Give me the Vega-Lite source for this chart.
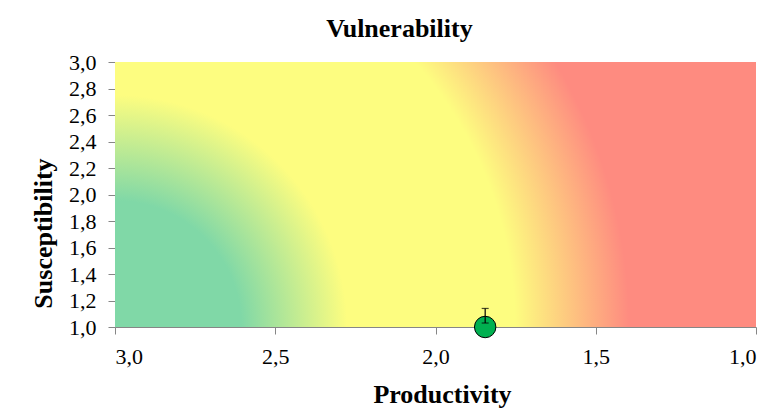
{
  "$schema": "https://vega.github.io/schema/vega-lite/v6.json",
  "autosize": "none",
  "width": 641,
  "height": 265,
  "padding": {"left": 115, "top": 62, "right": 24, "bottom": 92},
  "background": "white",
  "title": {
    "text": "Vulnerability",
    "font": "Liberation Serif",
    "fontSize": 26,
    "fontWeight": "bold",
    "color": "black",
    "anchor": "middle",
    "dx": -36,
    "offset": 9
  },
  "config": {
    "view": {"stroke": null},
    "axis": {
      "grid": false,
      "domainColor": "#868686",
      "tickColor": "#868686",
      "tickSize": 7,
      "labelFont": "Liberation Serif",
      "labelFontSize": 22,
      "labelColor": "black",
      "labelPadding": 12,
      "labelOverlap": false,
      "titleFont": "Liberation Serif",
      "titleFontSize": 26,
      "titleFontWeight": "bold",
      "titleColor": "black",
      "labelExpr": "replace(format(datum.value, '.1f'), '.', ',')"
    }
  },
  "datasets": {
    "zone": [{"P0": 3, "P1": 1, "S0": 1, "S1": 3}],
    "species": [{"Productivity": 1.845, "Susceptibility": 1.0, "low": 1.03, "high": 1.14}]
  },
  "layer": [
    {
      "data": {"name": "zone"},
      "mark": {
        "type": "rect",
        "color": {
          "gradient": "radial",
          "x1": 0, "y1": 0.7067, "r1": 0,
          "x2": 0, "y2": 0.7067, "r2": 1,
          "stops": [
            {"offset": 0, "color": "#80d8a7"},
            {"offset": 0.197, "color": "#80d8a7"},
            {"offset": 0.362, "color": "#fdfd80"},
            {"offset": 0.624, "color": "#fdfd80"},
            {"offset": 0.802, "color": "#fe8b80"},
            {"offset": 1, "color": "#fe8b80"}
          ]
        }
      },
      "encoding": {
        "x": {
          "field": "P0", "type": "quantitative",
          "scale": {"domain": [1, 3], "reverse": true, "nice": false, "zero": false},
          "axis": {"values": [3, 2.5, 2, 1.5, 1], "tickCount": 5, "labelOverlap": false, "title": "Productivity", "titleY": 75, "titleBaseline": "alphabetic", "titleX": 327, "titleAlign": "center"}
        },
        "x2": {"field": "P1"},
        "y": {
          "field": "S0", "type": "quantitative",
          "scale": {"domain": [1, 3], "nice": false, "zero": false},
          "axis": {"values": [1, 1.2, 1.4, 1.6, 1.8, 2, 2.2, 2.4, 2.6, 2.8, 3], "tickCount": 11, "labelOverlap": false, "labelBound": false, "title": "Susceptibility", "titleAngle": -90, "titleX": -64, "titleY": 171, "titleAlign": "center", "titleBaseline": "alphabetic"}
        },
        "y2": {"field": "S1"}
      }
    },
    {
      "data": {"name": "species"},
      "mark": {"type": "point", "shape": "circle", "filled": true, "size": 460, "fill": "#00b050", "stroke": "black", "strokeWidth": 1, "opacity": 1},
      "encoding": {
        "x": {"field": "Productivity", "type": "quantitative"},
        "y": {"field": "Susceptibility", "type": "quantitative"}
      }
    },
    {
      "data": {"name": "species"},
      "mark": {"type": "rule", "color": "black", "strokeWidth": 1.2},
      "encoding": {
        "x": {"field": "Productivity", "type": "quantitative"},
        "y": {"field": "low", "type": "quantitative"},
        "y2": {"field": "high"}
      }
    },
    {
      "data": {"name": "species"},
      "mark": {"type": "tick", "orient": "horizontal", "color": "black", "size": 7, "thickness": 1.2},
      "encoding": {
        "x": {"field": "Productivity", "type": "quantitative"},
        "y": {"field": "low", "type": "quantitative"}
      }
    },
    {
      "data": {"name": "species"},
      "mark": {"type": "tick", "orient": "horizontal", "color": "black", "size": 7, "thickness": 1.2},
      "encoding": {
        "x": {"field": "Productivity", "type": "quantitative"},
        "y": {"field": "high", "type": "quantitative"}
      }
    }
  ]
}
